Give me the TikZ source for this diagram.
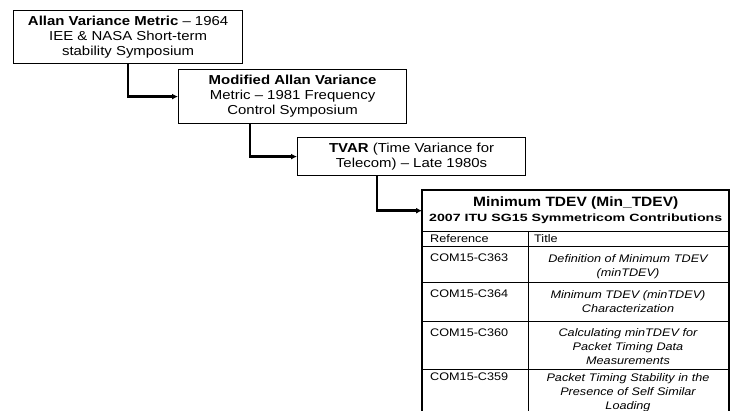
\documentclass[tikz,border=0pt]{standalone}
\usepackage{fontspec}
\setmainfont[FakeStretch=1.15]{Liberation Sans}
\newfontfamily\widefont[FakeStretch=1.35]{Liberation Sans}
\usetikzlibrary{arrows.meta}
\tikzset{
	stage/.style={draw, line width=1.2pt, align=center, anchor=north west, inner sep=0pt,
		font=\fontsize{13}{15}\selectfont},
	flow/.style={-{Latex[length=6pt,width=6pt]}, line width=2.6pt},
	cell/.style={font=\fontsize{11}{14}\selectfont, inner sep=0pt},
	titlecell/.style={cell, anchor=north, align=center, text width=196pt, font=\fontsize{11}{14}\selectfont\itshape}
}
\begin{document}
\begin{tikzpicture}[x=1pt, y=-1pt]
	\useasboundingbox (0,0) rectangle (736,411);
	\node[stage, minimum width=229pt, minimum height=53pt] (allan) at (13,10)
		{\textbf{Allan Variance Metric} – 1964\\IEE \& NASA Short-term\\stability Symposium};
	\node[stage, minimum width=228pt, minimum height=54pt] (modavar) at (178,69)
		{\textbf{Modified Allan Variance}\\Metric – 1981 Frequency\\Control Symposium};
	\node[stage, minimum width=228pt, minimum height=38pt] (tvar) at (297,137)
		{\textbf{TVAR} (Time Variance for\\Telecom) – Late 1980s};
	\node[anchor=north west, minimum width=307pt, minimum height=41pt, inner sep=0pt, align=center] (mintdev) at (422,190)
		{{\fontsize{13.5}{15}\selectfont\textbf{Minimum TDEV (Min\_TDEV)}}\\[3pt]{\widefont\fontsize{10.5}{12}\selectfont\textbf{2007 ITU SG15 Symmetricom Contributions}}};
	% table frame and rules
	\draw[line width=2.2pt] (422,411) -- (422,190) -- (729,190) -- (729,411);
	\draw[line width=0.8pt] (422,231) -- (729,231);
	\draw[line width=0.8pt] (422,246) -- (729,246);
	\draw[line width=0.8pt] (422,282) -- (729,282);
	\draw[line width=0.8pt] (422,321) -- (729,321);
	\draw[line width=0.8pt] (422,369) -- (729,369);
	\draw[line width=0.8pt] (528,231) -- (528,411);
	% table cells
	\node[cell, anchor=west] (refhead) at (430,238.5) {Reference};
	\node[cell, anchor=west] (titlehead) at (534,238.5) {Title};
	\node[cell, anchor=north west] (ref363) at (430,254) {COM15-C363};
	\node[titlecell] (title363) at (628,254) {Definition of Minimum TDEV\\(minTDEV)};
	\node[cell, anchor=north west] (ref364) at (430,290) {COM15-C364};
	\node[titlecell] (title364) at (628,290) {Minimum TDEV (minTDEV)\\Characterization};
	\node[cell, anchor=north west] (ref360) at (430,328.5) {COM15-C360};
	\node[titlecell] (title360) at (628,328.5) {Calculating minTDEV for\\Packet Timing Data\\Measurements};
	\node[cell, anchor=north west] (ref359) at (430,373) {COM15-C359};
	\node[titlecell] (title359) at (628,373) {Packet Timing Stability in the\\Presence of Self Similar\\Loading};
	% connectors
	\draw[flow] ([xshift=115pt]allan.south west) |- (modavar);
	\draw[flow] ([xshift=72pt]modavar.south west) |- (tvar);
	\draw[flow] ([xshift=80pt]tvar.south west) |- (mintdev);
\end{tikzpicture}
\end{document}
